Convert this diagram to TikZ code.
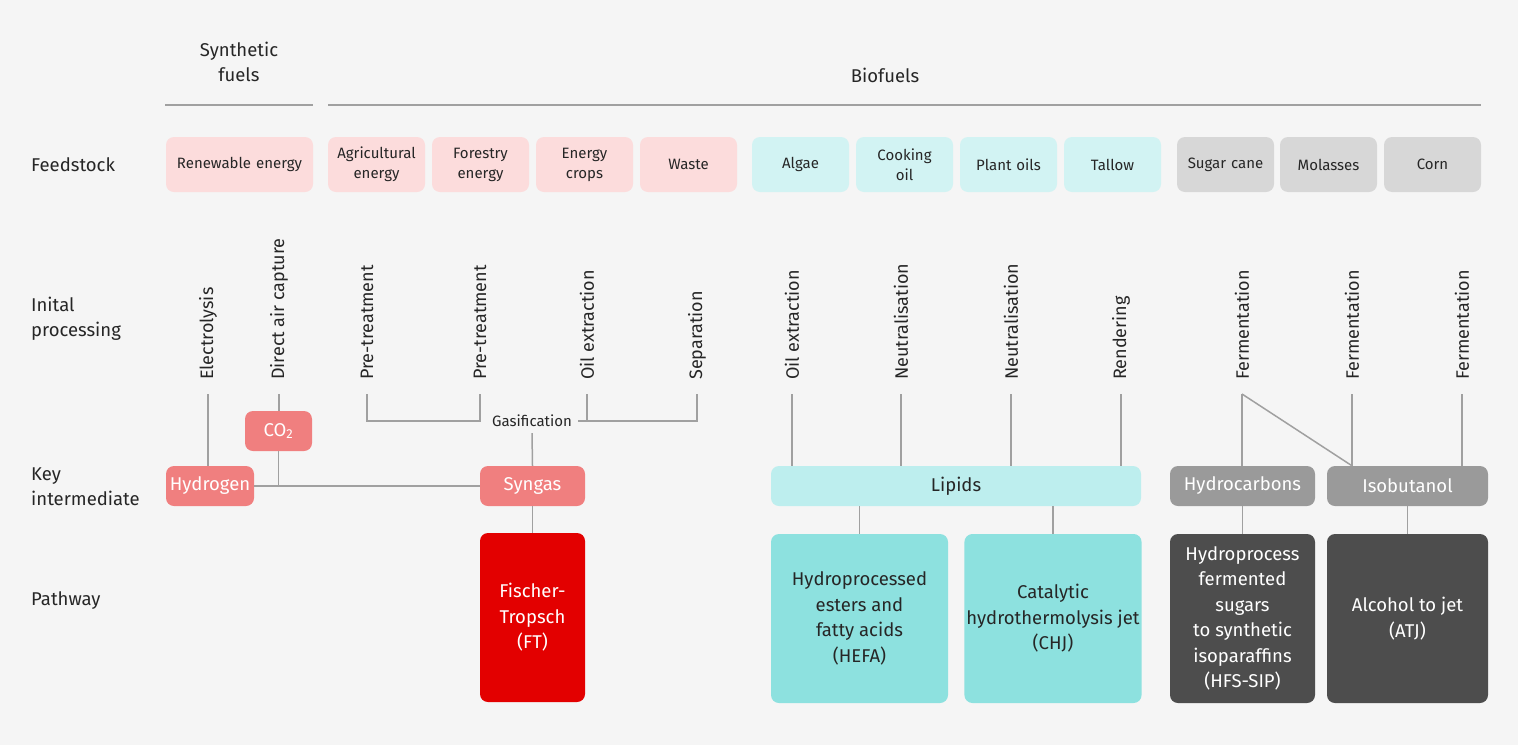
\documentclass[tikz,border=0pt]{standalone}
\usepackage{fontspec}
\setmainfont{Fira Sans}
\usepackage{tikz}

\definecolor{bgc}{HTML}{F5F5F5}
\definecolor{linec}{HTML}{A0A0A0}
\definecolor{txtc}{HTML}{262626}
\definecolor{pinkc}{HTML}{FCDCDC}
\definecolor{salmonc}{HTML}{F07F7F}
\definecolor{redc}{HTML}{E30000}
\definecolor{cyanc}{HTML}{D2F3F3}
\definecolor{lipidc}{HTML}{BDEEEE}
\definecolor{tealc}{HTML}{8DE1DF}
\definecolor{greyc}{HTML}{D7D7D7}
\definecolor{midgreyc}{HTML}{9A9A9A}
\definecolor{darkc}{HTML}{4D4D4D}

\tikzset{
	box/.style={rounded corners=8pt,inner sep=2pt,align=center},
	feed/.style={box,minimum width=97pt,minimum height=55pt,text width=92pt,
		font=\fontsize{15}{20}\selectfont,text=txtc},
	inter/.style={box,minimum height=40pt,font=\fontsize{18.5}{22}\selectfont,text=white},
	path/.style={box,minimum height=169pt,font=\fontsize{18.5}{25.5}\selectfont,text=white},
	proc/.style={rotate=90,anchor=west,inner xsep=14pt,inner ysep=0pt,
		font=\fontsize{18}{21}\selectfont,text=txtc},
	rowlabel/.style={anchor=west,align=left,inner sep=0pt,
		font=\fontsize{18.5}{25}\selectfont,text=txtc},
	conn/.style={draw=linec,line width=1.5pt}
}

\begin{document}
\begin{tikzpicture}[x=1pt,y=-1pt]
	\fill[bgc] (0,0) rectangle (1518,745);
	\useasboundingbox (0,0) rectangle (1518,745);

	% headers
	\node[align=center,font=\fontsize{18.5}{25}\selectfont,text=txtc] (synth) at (239,62) {Synthetic\\fuels};
	\node[font=\fontsize{18.5}{25}\selectfont,text=txtc] (bio) at (885,75) {Biofuels};
	\draw[conn,line width=1.2pt] (165,105) -- (313,105);
	\draw[conn,line width=1.2pt] (328,105) -- (1481,105);

	% row labels
	\node[rowlabel] (rfeed) at (31,165) {Feedstock};
	\node[rowlabel] (rproc) at (31,318.5) {Inital\\processing};
	\node[rowlabel] (rkey) at (31,486.5) {Key\\intermediate};
	\node[rowlabel] (rpath) at (31,601) {Pathway};

	% feedstock
	\node[feed,fill=pinkc,minimum width=147pt,text width=140pt] (renew) at (239.5,164.5) {Renewable energy};
	\node[feed,fill=pinkc] (agri) at (376.5,164.5) {Agricultural\\energy};
	\node[feed,fill=pinkc] (forest) at (480.5,164.5) {Forestry\\energy};
	\node[feed,fill=pinkc] (crops) at (584.5,164.5) {Energy\\crops};
	\node[feed,fill=pinkc] (waste) at (688.5,164.5) {Waste};
	\node[feed,fill=cyanc] (algae) at (800.5,164.5) {Algae};
	\node[feed,fill=cyanc] (cook) at (904.5,164.5) {Cooking\\oil};
	\node[feed,fill=cyanc] (plant) at (1008.5,164.5) {Plant oils};
	\node[feed,fill=cyanc] (tallow) at (1112.5,164.5) {Tallow};
	\node[feed,fill=greyc] (sugar) at (1225.5,164.5) {Sugar cane};
	\node[feed,fill=greyc] (molas) at (1328.5,164.5) {Molasses};
	\node[feed,fill=greyc] (corn) at (1432.5,164.5) {Corn};

	% initial processing
	\node[proc] (elec) at (208,394) {Electrolysis};
	\node[proc] (dac) at (279,394) {Direct air capture};
	\node[proc] (pre1) at (367,394) {Pre-treatment};
	\node[proc] (pre2) at (480,394) {Pre-treatment};
	\node[proc] (oil1) at (587,394) {Oil extraction};
	\node[proc] (sep) at (697,394) {Separation};
	\node[proc] (oil2) at (792,394) {Oil extraction};
	\node[proc] (neut1) at (901,394) {Neutralisation};
	\node[proc] (neut2) at (1011,394) {Neutralisation};
	\node[proc] (rend) at (1121,394) {Rendering};
	\node[proc] (ferm1) at (1242,394) {Fermentation};
	\node[proc] (ferm2) at (1352,394) {Fermentation};
	\node[proc] (ferm3) at (1462,394) {Fermentation};
	\node[font=\fontsize{15}{18}\selectfont,text=txtc,inner sep=6pt] (gas) at (532,421) {Gasification};

	% key intermediates
	\node[inter,fill=salmonc,minimum width=67pt] (co2) at (278.5,431) {CO\textsubscript{2}};
	\node[inter,fill=salmonc,minimum width=88pt] (hyd) at (210,486) {Hydrogen};
	\node[inter,fill=salmonc,minimum width=105pt] (syn) at (532.5,486) {Syngas};
	\node[inter,fill=lipidc,minimum width=370pt,text=txtc] (lip) at (956,486) {Lipids};
	\node[inter,fill=midgreyc,minimum width=145pt] (hc) at (1242.5,486) {Hydrocarbons};
	\node[inter,fill=midgreyc,minimum width=161pt] (iso) at (1407.5,486) {Isobutanol};

	% pathways
	\node[path,fill=redc,minimum width=105pt] (ft) at (532.5,617.5) {Fischer-\\Tropsch\\(FT)};
	\node[path,fill=tealc,minimum width=177pt,text=txtc] (hefa) at (859.5,618.5) {Hydroprocessed\\esters and\\fatty acids\\(HEFA)};
	\node[path,fill=tealc,minimum width=176pt,text=txtc] (chj) at (1053,618.5) {Catalytic\\hydrothermolysis jet\\(CHJ)};
	\node[path,fill=darkc,minimum width=145pt] (hfs) at (1242.5,618.5) {Hydroprocess\\fermented\\sugars\\to synthetic\\isoparaffins\\(HFS-SIP)};
	\node[path,fill=darkc,minimum width=161pt] (atj) at (1407.5,618.5) {Alcohol to jet\\(ATJ)};

	% connectors
	\draw[conn] (elec.west) -- (elec.west |- hyd.north);
	\draw[conn] (dac.west) -- (dac.west |- co2.north);
	\draw[conn] (co2.south) -- (co2.south |- hyd.east);
	\draw[conn] (hyd.east) -- (syn.west);
	\draw[conn] (pre1.west) |- (gas.west -| pre2.west) -- (pre2.west);
	\draw[conn] (oil1.west) -- (oil1.west |- gas.east);
	\draw[conn] (gas.east) -- (gas.east -| sep.west) -- (sep.west);
	\draw[conn] (gas.south) -- (syn.north);
	\draw[conn] (syn.south) -- (ft.north);
	\foreach \p in {oil2,neut1,neut2,rend}
		\draw[conn] (\p.west) -- (\p.west |- lip.north);
	\draw[conn] (hefa.north |- lip.south) -- (hefa.north);
	\draw[conn] (chj.north |- lip.south) -- (chj.north);
	\draw[conn] (ferm1.west) -- (ferm1.west |- hc.north);
	\draw[conn] (ferm1.west) -- (ferm2.west |- iso.north);
	\draw[conn] (ferm2.west) -- (ferm2.west |- iso.north);
	\draw[conn] (ferm3.west) -- (ferm3.west |- iso.north);
	\draw[conn] (hc.south) -- (hfs.north);
	\draw[conn] (iso.south) -- (atj.north);
\end{tikzpicture}
\end{document}
